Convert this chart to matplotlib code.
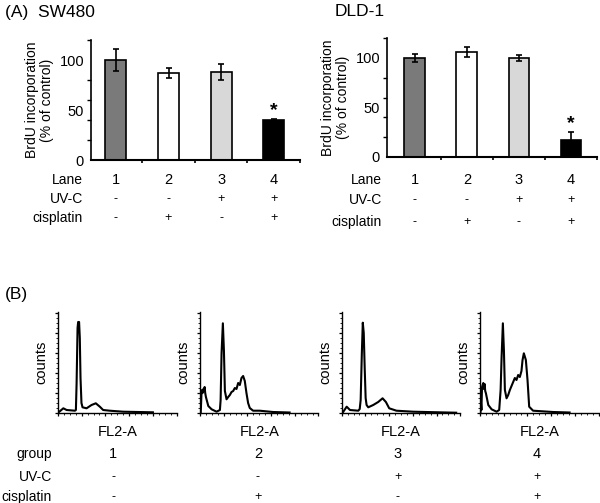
import numpy as np
import matplotlib.pyplot as plt
import matplotlib.transforms as mtransforms
from matplotlib.ticker import MultipleLocator, NullFormatter

plt.rcParams['font.family'] = ['Liberation Sans', 'DejaVu Sans']

# ---- panel A data (BrdU incorporation, % of control) ----
lanes = ['1', '2', '3', '4']
uvc = ['-', '-', '+', '+']
cisplatin = ['-', '+', '-', '+']
bar_colors = ['#7a7a7a', '#ffffff', '#d8d8d8', '#000000']

sw480_mean = [100, 87, 88, 40]
sw480_err = [11, 5, 8, 1]
dld1_mean = [100, 106, 100, 17]
dld1_err = [4, 5, 3, 8]

# ---- panel B data (cell cycle histograms: FL2-A channel vs counts) ----
h1_x = [11, 45, 73, 143, 151, 157, 165, 170, 178, 184, 190, 198, 207, 241, 283, 319, 353, 381,
        437, 549, 801]
h1_y = [1.3, 4.7, 3, 2.3, 3, 30, 85, 91, 91, 75, 35, 10, 5.7, 4.7, 8, 9.7, 6.3, 3,
        2.3, 1.3, 0.7]

h2_x = [6, 12, 17, 22, 28, 33, 39, 44, 50, 70, 98, 140, 168, 174, 182, 193, 202, 210, 224,
        238, 252, 266, 280, 294, 308, 322, 336, 350, 364, 378, 392, 406, 420, 448, 504, 616, 756]
h2_y = [0, 18, 23, 20, 24, 22, 26, 20, 16, 7, 3.7, 1.3, 3, 13, 60, 89.7, 62, 22, 13.7,
        16, 18, 21, 22, 25, 24, 30, 28, 35, 37, 32, 20, 10, 5, 2.3, 2.3, 1, 0.5]

h3_x = [8, 42, 70, 140, 152, 160, 170, 178, 186, 194, 202, 210, 224, 266, 308, 345, 373, 401,
        462, 602, 966]
h3_y = [0.3, 6.3, 3, 2.3, 4, 13, 60, 90.3, 80, 45, 15, 8, 5.7, 8, 11, 14.7, 11, 4.7,
        2.3, 1.3, 0.3]

h4_x = [4, 8, 12, 17, 22, 28, 33, 39, 44, 50, 70, 98, 140, 162, 174, 182, 193, 202, 210, 224,
        238, 252, 266, 280, 294, 308, 322, 336, 350, 359, 370, 387, 401, 415, 448, 616, 756]
h4_y = [0, 10, 3, 25.7, 28, 30, 24, 29, 22, 19.7, 8, 3.7, 1.3, 3, 23, 55, 89.7, 62, 23, 14.7,
        18, 23, 27, 31, 35, 33, 38, 36, 42, 53, 59.7, 53, 33, 6.3, 2.3, 1, 0.5]

groups = ['1', '2', '3', '4']
hist_uvc = ['-', '-', '+', '+']
hist_cis = ['-', '+', '-', '+']

W, H = 600, 503
fig = plt.figure(figsize=(6, 5.03), dpi=100)


def fy(py):
    return 1 - py / H


def bar_panel(rect, means, errs, title, title_x, xlim, row_ys, label_x):
    ax = fig.add_axes(rect)
    x = np.arange(1, 5)
    ax.bar(x, means, width=0.4, color=bar_colors, edgecolor='black', linewidth=1.2, zorder=2)
    ax.errorbar(x, means, yerr=errs, fmt='none', ecolor='black', elinewidth=1.2,
                capsize=2.5, capthick=1.2, zorder=3)
    ax.set_xlim(*xlim)
    ax.set_ylim(0, 120)
    for s in ['top', 'right']:
        ax.spines[s].set_visible(False)
    ax.spines['left'].set_linewidth(1.2)
    ax.spines['bottom'].set_linewidth(1.5)
    ax.set_yticks([0, 50, 100])
    ax.yaxis.set_minor_locator(MultipleLocator(20))
    ax.tick_params(axis='y', which='major', length=0, labelsize=10.5, pad=5)
    ax.tick_params(axis='y', which='minor', length=3, width=1)
    ax.set_xticks([1.5, 2.5, 3.5, 4.5])
    ax.set_xticklabels([])
    ax.tick_params(axis='x', length=2.5, width=1.2)
    ax.set_ylabel('BrdU incorporation\n(% of control)', fontsize=10, labelpad=4,
                  linespacing=1.05)
    ax.annotate('*', xy=(4, means[3] + errs[3]), xytext=(0, 0), textcoords='offset points',
                ha='center', va='bottom', fontsize=14, fontweight='bold')
    fig.text(title_x / W, fy(12), title, fontsize=12.5, va='center', ha='left')
    tr = mtransforms.blended_transform_factory(ax.transData, fig.transFigure)
    names = ['Lane', 'UV-C', 'cisplatin']
    for row, vals, py in zip(names, [lanes, uvc, cisplatin], row_ys):
        fig.text(label_x / W, fy(py), row, fontsize=10, ha='right', va='center')
        fs = 10.5 if row == 'Lane' else 9
        for xi, v in zip(x, vals):
            ax.text(xi, fy(py), v, transform=tr, fontsize=fs, ha='center', va='center')
    return ax


bar_panel([91 / W, fy(160), 209 / W, 120 / H], sw480_mean, sw480_err, '(A)  SW480', 5,
          (0.526, 4.49), [180, 199, 218], 83)
bar_panel([387 / W, fy(157), 210 / W, 119 / H], dld1_mean, dld1_err, 'DLD-1', 335,
          (0.465, 4.48), [180, 200, 222], 382)

# ---- panel B ----
fig.text(5 / W, fy(295), '(B)', fontsize=12.5, va='center', ha='left')
hist_lefts = [58, 200, 341.7, 480]
col_x = [113, 258, 398, 537]
hists = [(h1_x, h1_y), (h2_x, h2_y), (h3_x, h3_y), (h4_x, h4_y)]
for i, (hx, hy) in enumerate(hists):
    left = hist_lefts[i]
    ax = fig.add_axes([left / W, fy(413), 118.5 / W, 101 / H])
    ax.plot(hx, hy, color='black', linewidth=1.5)
    ax.set_xlim(0, 1000)
    ax.set_ylim(0, 101)
    for s in ['top', 'right']:
        ax.spines[s].set_visible(False)
    ax.spines['left'].set_linewidth(1.0)
    ax.spines['bottom'].set_linewidth(1.0)
    ax.xaxis.set_major_locator(MultipleLocator(200))
    ax.xaxis.set_minor_locator(MultipleLocator(50))
    ax.yaxis.set_major_locator(MultipleLocator(20))
    ax.yaxis.set_minor_locator(MultipleLocator(5))
    ax.xaxis.set_major_formatter(NullFormatter())
    ax.yaxis.set_major_formatter(NullFormatter())
    ax.tick_params(which='major', length=2.5, width=0.9)
    ax.tick_params(which='minor', length=1.2, width=0.6)
    ax.set_ylabel('counts', fontsize=10.5, labelpad=1)
    ax.set_xlabel('FL2-A', fontsize=10.5, labelpad=3)

row_names = ['group', 'UV-C', 'cisplatin']
for name, vals, py in zip(row_names, [groups, hist_uvc, hist_cis], [454, 477, 497]):
    fig.text(52 / W, fy(py), name, fontsize=10, ha='right', va='center')
    fs = 10.5 if name == 'group' else 9
    for cx, v in zip(col_x, vals):
        fig.text(cx / W, fy(py), v, fontsize=fs, ha='center', va='center')

fig.savefig('out.png', dpi=100)
